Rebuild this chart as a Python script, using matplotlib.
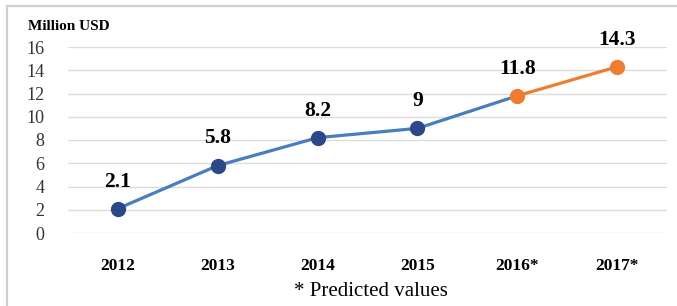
import numpy as np
import matplotlib.pyplot as plt
from matplotlib.lines import Line2D

years = ["2012", "2013", "2014", "2015", "2016*", "2017*"]
actual = [2.1, 5.8, 8.2, 9.0]
predicted = [11.8, 14.3]
labels = ["2.1", "5.8", "8.2", "9", "11.8", "14.3"]
values = actual + predicted

plt.rcParams['font.family'] = ['Liberation Serif', 'DejaVu Serif']

fig = plt.figure(figsize=(6.77, 3.06), dpi=100)
ax = fig.add_axes([68/677, 1-233/306, (667-68)/677, (233-47)/306])

x = np.arange(len(years))
blue_line = "#4a7cc0"
blue_dot = "#2c4888"
orange = "#ee7d31"

# blue line runs up to the first predicted point, orange after it
ax.plot(x[:5], values[:5], color=blue_line, lw=2.3, zorder=3)
ax.plot(x[4:], values[4:], color=orange, lw=2.3, zorder=3)
ax.plot(x[:4], actual, 'o', color=blue_dot, ms=10, mec=blue_dot, zorder=4)
ax.plot(x[4:], predicted, 'o', color=orange, ms=10, mec=orange, zorder=4)

for xi, v, lab in zip(x, values, labels):
    ax.annotate(lab, (xi, v), xytext=(0, 19.5), textcoords='offset points',
                ha='center', va='center', fontsize=15.5, fontweight='bold')

ax.set_xlim(-0.5, 5.5)
ax.set_ylim(0, 16)
ax.set_yticks(range(0, 17, 2))
ax.set_xticks(x)
ax.set_xticklabels(years, fontweight='bold', fontsize=12.5)
ax.tick_params(axis='y', labelsize=13, length=0, pad=17, labelcolor='#333333')
ax.tick_params(axis='x', length=0, pad=18)
ax.grid(axis='y', color='#dcdcdc', lw=1)
ax.set_axisbelow(True)
for s in ax.spines.values():
    s.set_visible(False)

fig.text(28/677, 1-27/306, "Million USD", fontsize=11, fontweight='bold', va='center')
fig.text(371/677, 1-292/306, "* Predicted values", fontsize=15, ha='center', va='center')

# light grey frame (left and top edges)
fig.add_artist(Line2D([7/677, 7/677], [0, 1-6/306], color='#d0d0d0', lw=1.6, transform=fig.transFigure))
fig.add_artist(Line2D([7/677, 1], [1-6/306, 1-6/306], color='#d0d0d0', lw=1.6, transform=fig.transFigure))

fig.savefig("out.png", dpi=100)
